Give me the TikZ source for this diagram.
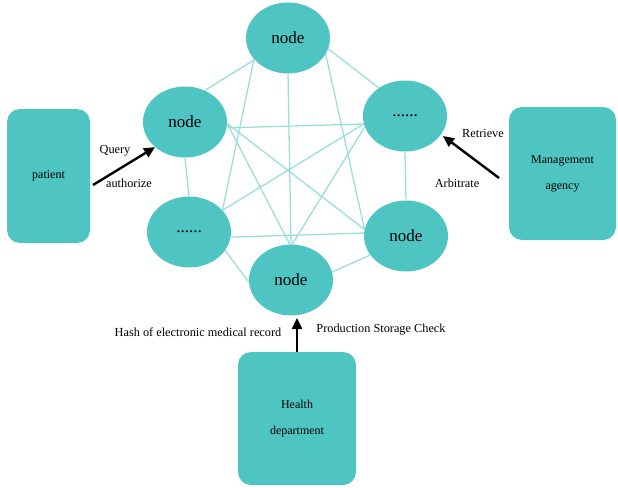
\documentclass[tikz,border=0pt]{standalone}
\usepackage{fontspec}
\setmainfont{Liberation Serif}
\usetikzlibrary{shapes.geometric,arrows.meta}
\definecolor{tealfill}{RGB}{78,197,194}
\definecolor{linkline}{RGB}{155,222,218}
\begin{document}
\begin{tikzpicture}[x=1pt,y=-1pt,
  peer/.style={ellipse,fill=tealfill,minimum width=84pt,minimum height=71pt,inner sep=0pt,font=\fontsize{17}{20}\selectfont},
  actor/.style={rectangle,rounded corners=13pt,fill=tealfill,inner sep=0pt,align=center,font=\fontsize{12}{26}\selectfont},
  link/.style={linkline,line width=1.3pt},
  push/.style={line width=2.4pt,-{Triangle[length=11pt,width=10pt]}},
  lbl/.style={font=\fontsize{12.3}{14}\selectfont,inner sep=0pt}]
\useasboundingbox (0,0) rectangle (618,487);

% blockchain peers
\node[peer] (T)  at (288,38)  {node};
\node[peer] (UL) at (185,122) {node};
\node[peer] (UR) at (405,116) {......};
\node[peer] (LL) at (189,232) {......};
\node[peer] (LR) at (406,236) {node};
\node[peer] (B)  at (291,280) {node};

% full mesh between peers
\draw[link] (T.213) -- (UL.58);
\draw[link] (T.-15) -- (UR.133);
\draw[link] (T.212) -- (LL.33);
\draw[link] (T.270) -- (B.90);
\draw[link] (T.-23) -- (LR.171);
\draw[link] (UL.-8) -- (UR.191);
\draw[link] (UL.270) -- (LL.90);
\draw[link] (UL.-2) -- (B.92);
\draw[link] (UL.-2) -- (LR.171);
\draw[link] (UR.191) -- (LL.33);
\draw[link] (UR.195) -- (B.88);
\draw[link] (UR.270) -- (LR.90);
\draw[link] (LL.-7) -- (LR.176);
\draw[link] (LL.-27) -- (B.183);
\draw[link] (LR.208) -- (B.11);

% participants
\node[actor,minimum width=83pt,minimum height=134pt] (patient) at (48.5,176) {patient};
\node[actor,minimum width=107pt,minimum height=133pt] (agency) at (562.5,173.5) {Management\\agency};
\node[actor,minimum width=118pt,minimum height=133pt] (health) at (297,418.5) {Health\\department};

% interactions
\coordinate (pS) at (93,185);
\coordinate (aS) at (499,178);
\coordinate (aE) at (443,136);
\coordinate (hE) at (297,318);
\draw[push] (pS) -- (UL.220);
\draw[push] (aS) -- (aE);
\draw[push] (health.north) -- (hE);

\node[lbl] (q)  at (115,151) {Query};
\node[lbl] (au) at (129,183) {authorize};
\node[lbl] (re) at (483,133) {Retrieve};
\node[lbl] (ar) at (457,183) {Arbitrate};
\node[lbl] (ha) at (198,332) {Hash of electronic medical record};
\node[lbl] (ps) at (381,330) {Production Storage Check};
\end{tikzpicture}
\end{document}
